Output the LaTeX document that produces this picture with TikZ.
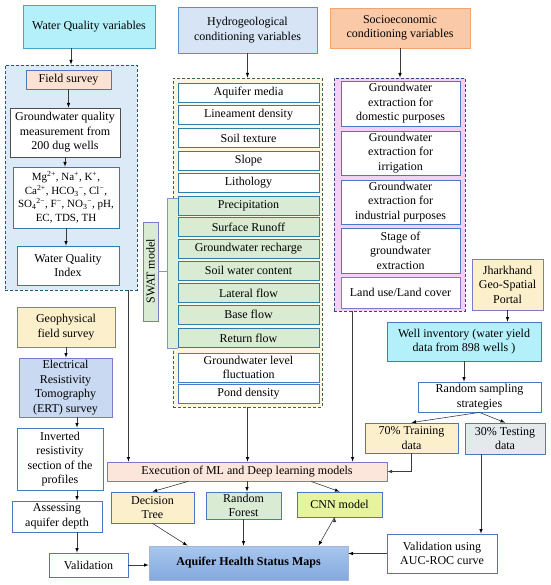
\documentclass[tikz,border=0pt]{standalone}
\usepackage{fontspec}
\setmainfont{Liberation Serif}
\usetikzlibrary{arrows,calc}

\definecolor{cyanfill}{HTML}{B3F0FA}
\definecolor{cyanline}{HTML}{4BA3C3}
\definecolor{wqpanel}{HTML}{DCE9F6}
\definecolor{wqdash}{HTML}{1E5A78}
\definecolor{peach}{HTML}{FBE2D3}
\definecolor{darkline}{HTML}{4D4D4D}
\definecolor{tealline}{HTML}{2E7DAA}
\definecolor{boxblue}{HTML}{4A78C2}
\definecolor{purpline}{HTML}{7B7BC9}
\definecolor{lightyel}{HTML}{FCF0CC}
\definecolor{ertblue}{HTML}{C9D9F2}
\definecolor{hydfill}{HTML}{D6E4F5}
\definecolor{hydline}{HTML}{5B8FD0}
\definecolor{yelpanel}{HTML}{FDF6DE}
\definecolor{grdash}{HTML}{35664F}
\definecolor{greenrow}{HTML}{D9EBD3}
\definecolor{swatfill}{HTML}{DDEFD6}
\definecolor{bracket}{HTML}{7E9CB8}
\definecolor{orfill}{HTML}{F9C9A8}
\definecolor{orline}{HTML}{F2A46F}
\definecolor{pkpanel}{HTML}{F4D0F6}
\definecolor{pkdash}{HTML}{2C4A7A}
\definecolor{cnnfill}{HTML}{E6F59D}
\definecolor{greyfill}{HTML}{E4E9EC}
\definecolor{exefill}{HTML}{FCE5DA}
\definecolor{mapstop}{HTML}{A9C7EE}
\definecolor{mapsbot}{HTML}{83A9DF}
\definecolor{linegrey}{HTML}{3C3C3C}

\newcommand{\sups}[1]{\textsuperscript{#1}}
\newcommand{\subs}[1]{\textsubscript{#1}}

\begin{document}
\begin{tikzpicture}[->,>=latex,x=1pt,y=-1pt,
      sz/.style 2 args={minimum width=#1pt,minimum height=#2pt},
      box/.style={draw=boxblue,line width=0.8pt,fill=white,align=center,
        inner sep=1pt,font=\fontsize{12}{14.5}\selectfont},
      panel/.style={draw,line width=0.9pt,dash pattern=on 3pt off 2pt},
      link/.style={draw=linegrey,line width=0.6pt}]

      \useasboundingbox (0,0) rectangle (550,585);

      % left column
      \node[box,draw=cyanline,fill=cyanfill,sz={132}{43}] (wqv) at (89,26.5) {Water Quality variables};
      \node[panel,draw=wqdash,fill=wqpanel,sz={132}{225}] (wqbox) at (71,177.5) {};
      \node[box,fill=peach,sz={85}{19}] (fs) at (68.5,79.5) {Field survey};
      \node[box,draw=darkline,sz={110}{49}] (gwq) at (65,132.5) {Groundwater quality\\measurement from\\200 dug wells};
      \node[box,draw=tealline,sz={106}{61},font=\fontsize{11}{13.5}\selectfont] (ions) at (66,197.5)
        {Mg\sups{2+}, Na\sups{+}, K\sups{+},\\Ca\sups{2+}, HCO\subs{3}\sups{−}, Cl\sups{−},\\SO\subs{4}\sups{2−}, F\sups{−}, NO\subs{3}\sups{−}, pH,\\EC, TDS, TH};
      \node[box,draw=tealline,sz={102}{39}] (wqi) at (68,265.5) {Water Quality\\Index};
      \node[box,draw=purpline,fill=lightyel,sz={98}{40}] (geo) at (66,327) {Geophysical\\field survey};
      \node[box,draw=purpline,fill=ertblue,sz={93}{59}] (ert) at (65.5,387.5) {Electrical\\Resistivity\\Tomography\\(ERT) survey};
      \node[box,sz={86}{62}] (inv) at (60,459) {Inverted\\resistivity\\section of the\\profiles};
      \node[box,sz={90}{31}] (aad) at (57,516.5) {Assessing\\aquifer depth};
      \node[box,sz={79}{24}] (val) at (88.5,565) {Validation};
      \coordinate (gx) at (77,0);

      % middle column
      \node[box,draw=hydline,fill=hydfill,sz={139}{46}] (hyd) at (247.5,30) {Hydrogeological\\conditioning variables};
      \node[panel,draw=grdash,fill=yelpanel,sz={149}{329}] (hbox) at (247.5,242.5) {};
      \fill[swatfill] (167,198) rectangle (178,348);
      \draw[-,bracket,line width=0.6pt] (178,198) -- (167,198) -- (167,348) -- (178,348);
      \node[box,draw=purpline,fill=greenrow,rotate=90,sz={99}{15}] (swat) at (150.5,271.5) {SWAT model};
      \coordinate (brk) at (167,271.5);
      \draw[-,bracket,line width=0.6pt] (swat.south) -- (brk);

      \node[box,draw=tealline,sz={141}{19}] (am) at (248.5,93) {Aquifer media};
      \node[box,draw=tealline,sz={141}{19}] (ld) at (248.5,115) {Lineament density};
      \node[box,draw=tealline,sz={141}{19}] (st) at (248.5,138) {Soil texture};
      \node[box,draw=tealline,sz={141}{19}] (sl) at (248.5,161) {Slope};
      \node[box,draw=tealline,sz={141}{19}] (li) at (248.5,183) {Lithology};
      \node[box,draw=tealline,fill=greenrow,sz={141}{19}] (pr) at (248.5,205.5) {Precipitation};
      \node[box,draw=tealline,fill=greenrow,sz={141}{19}] (sr) at (248.5,227) {Surface Runoff};
      \node[box,draw=tealline,fill=greenrow,sz={141}{19}] (gr) at (248.5,249) {Groundwater recharge};
      \node[box,draw=tealline,fill=greenrow,sz={141}{19}] (sw) at (248.5,270.5) {Soil water content};
      \node[box,draw=tealline,fill=greenrow,sz={141}{19}] (lf) at (248.5,293) {Lateral flow};
      \node[box,draw=tealline,fill=greenrow,sz={141}{19}] (bf) at (248.5,314.5) {Base flow};
      \node[box,draw=tealline,fill=greenrow,sz={141}{19}] (rt) at (248.5,338) {Return flow};
      \node[box,sz={141}{29}] (gl) at (248.5,367.5) {Groundwater level\\fluctuation};
      \node[box,sz={141}{19}] (pd) at (248.5,393.5) {Pond density};

      % right column
      \node[box,draw=orline,fill=orfill,sz={140}{40}] (soc) at (400,28) {Socioeconomic\\conditioning variables};
      \node[panel,draw=pkdash,fill=pkpanel,sz={131}{233}] (sbox) at (399.5,194.5) {};
      \node[box,sz={119}{45}] (dom) at (400.5,103.5) {Groundwater\\extraction for\\domestic purposes};
      \node[box,sz={119}{44}] (irr) at (400.5,153) {Groundwater\\extraction for\\irrigation};
      \node[box,sz={119}{44}] (ind) at (400.5,202) {Groundwater\\extraction for\\industrial purposes};
      \node[box,sz={119}{45}] (stg) at (400.5,250.5) {Stage of\\groundwater\\extraction};
      \node[box,draw=purpline,sz={119}{31}] (lu) at (400.5,292.5) {Land use/Land cover};

      \node[box,draw=purpline,fill=lightyel,sz={71}{51}] (jh) at (507.5,284.5) {Jharkhand\\Geo-Spatial\\Portal};
      \node[box,fill=cyanfill,sz={154}{39}] (wi) at (464,341.5) {Well inventory (water yield\\data from 898 wells )};
      \node[box,sz={123}{30}] (rs) at (479.5,397) {Random sampling\\strategies};
      \node[box,fill=lightyel,sz={93}{30}] (tr) at (411.5,438) {70\% Training\\data};
      \node[box,fill=greyfill,sz={80}{31}] (te) at (505,438.5) {30\% Testing\\data};

      % models and output
      \node[box,draw=purpline,fill=exefill,sz={280}{19}] (exe) at (247,471.5) {Execution of ML and Deep learning models};
      \node[box,fill=lightyel,sz={83}{31}] (dt) at (152.5,507.5) {Decision\\Tree};
      \node[box,fill=greenrow,sz={75}{27}] (rf) at (243.5,505.5) {Random\\Forest};
      \node[box,fill=cnnfill,sz={85}{25}] (cnn) at (339.5,504.5) {CNN model};
      \node[box,sz={110}{39}] (auc) at (442,553.5) {Validation using\\AUC-ROC curve};
      \node[box,draw=mapsbot!80!black!60,top color=mapstop,bottom color=mapsbot,sz={199}{34},
        font=\fontsize{12}{14.5}\selectfont\bfseries] (ahsm) at (248.5,563) {Aquifer Health Status Maps};

      \path[link]
      (wqbox.north |- wqv.south) edge (wqbox.north)
      (fs.south) edge (fs.south |- gwq.north)
      (gwq.south) edge (gwq.south |- ions.north)
      (ions.south) edge (ions.south |- wqi.north)
      ([xshift=-9pt]wqbox.south east) edge ([xshift=-9pt]wqbox.south east |- exe.north)

      (geo.south) edge (geo.south |- ert.north)
      (gx |- ert.south) edge (gx |- inv.north)
      (gx |- inv.south) edge (gx |- aad.north)
      (gx |- aad.south) edge (gx |- val.north)
      (val.east) edge (val.east -| ahsm.west)

      (hyd.south) edge (hyd.south |- hbox.north)
      (hbox.south) edge (hbox.south |- exe.north)

      (soc.south) edge (soc.south |- sbox.north)
      ([xshift=19pt]sbox.south west) edge ([xshift=19pt]sbox.south west |- exe.north)

      (jh.south) edge (jh.south |- wi.north)
      (wi.south) edge (wi.south |- rs.north)
      (rs.south) edge (tr.north)
      (rs.south) edge (te.north)
      ([xshift=-24pt]te.south) edge ([xshift=-24pt]te.south |- auc.north)
      (auc.west) edge (auc.west -| ahsm.east)

      ([xshift=-59pt]exe.south) edge (dt.north)
      (exe.south) edge (exe.south |- rf.north)
      ([xshift=64pt]exe.south) edge (cnn.north)
      (dt.south) edge ([xshift=-61pt]ahsm.north)
      (rf.south) edge (rf.south |- ahsm.north)
      ([xshift=-5pt]cnn.south) edge ([xshift=70pt]ahsm.north)
      ;
      \draw[link] (tr.south) |- (exe.east);
\end{tikzpicture}
\end{document}
